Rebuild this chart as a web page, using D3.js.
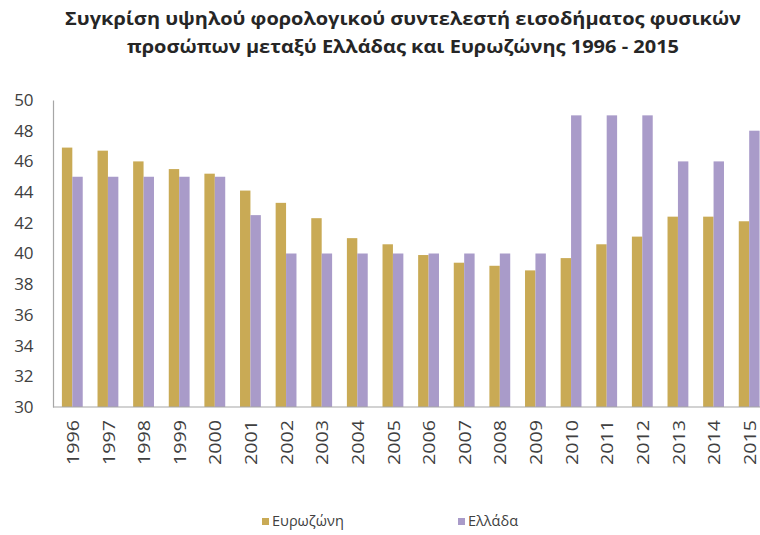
<!DOCTYPE html>
<html>
<head>
<meta charset="utf-8">
<script src="https://cdn.jsdelivr.net/npm/d3@7"></script>
<style>
  html, body { margin: 0; padding: 0; background: #fff; }
  svg { display: block; }
</style>
</head>
<body>
<svg id="chart" width="760" height="535"></svg>
<script>
// Top personal income tax rate, Eurozone vs Greece
const years = ["1996","1997","1998","1999","2000","2001","2002","2003","2004","2005",
               "2006","2007","2008","2009","2010","2011","2012","2013","2014","2015"];
const eurozone = [46.9, 46.7, 46.0, 45.5, 45.2, 44.1, 43.3, 42.3, 41.0, 40.6,
                  39.9, 39.4, 39.2, 38.9, 39.7, 40.6, 41.1, 42.4, 42.4, 42.1];
const greece   = [45, 45, 45, 45, 45, 42.5, 40, 40, 40, 40,
                  40, 40, 40, 40, 49, 49, 49, 46, 46, 48];
const yTicks = [30, 32, 34, 36, 38, 40, 42, 44, 46, 48, 50];
const seriesNames = ["Ευρωζώνη", "Ελλάδα"];
const titleLines = ["Συγκρίση υψηλού φορολογικού συντελεστή εισοδήματος φυσικών",
                    "προσώπων μεταξύ Ελλάδας και Ευρωζώνης 1996 - 2015"];

const colors = ["#c9aa55", "#a99bc9"];
const font = "'Open Sans', 'Noto Sans', sans-serif";
const textColor = "#404040";
const axisColor = "#a6a6a6";

const svg = d3.select("#chart");
const plotLeft = 53, plotTop = 100, plotBottom = 407;

const x = d3.scaleBand().domain(years).range([54.5, 767]).paddingInner(0).paddingOuter(0);
const x1 = d3.scaleBand().domain([0, 1]).range([0, x.bandwidth()]).paddingInner(0).paddingOuter(0.71);
const y = d3.scaleLinear().domain([30, 50]).range([plotBottom, plotTop]);

// Title
svg.append("g").selectAll("text").data(titleLines).join("text")
  .attr("x", 403).attr("y", (d, i) => 25 + i * 28)
  .attr("text-anchor", "middle")
  .attr("font-family", font).attr("font-weight", 700).attr("font-size", 17)
  .attr("fill", "#262626")
  .attr("textLength", (d, i) => i === 0 ? 676 : 552)
  .attr("lengthAdjust", "spacingAndGlyphs")
  .text(d => d);

// Bars
const groups = svg.append("g").selectAll("g").data(years).join("g")
  .attr("transform", d => `translate(${x(d)},0)`);
groups.selectAll("rect")
  .data((d, i) => [eurozone[i], greece[i]])
  .join("rect")
  .attr("x", (v, j) => x1(j))
  .attr("width", x1.bandwidth())
  .attr("y", v => y(v))
  .attr("height", v => plotBottom - y(v))
  .attr("fill", (v, j) => colors[j]);

// Y axis
const yAxis = svg.append("g").attr("transform", `translate(${plotLeft},0)`)
  .call(d3.axisLeft(y).tickValues(yTicks).tickSize(0).tickPadding(20).tickFormat(d3.format("d")));
yAxis.select(".domain").attr("stroke", axisColor).attr("stroke-width", 1.2);
yAxis.selectAll("text").attr("font-family", font).attr("font-size", 17)
  .attr("fill", textColor).attr("letter-spacing", -0.4);

// X axis
const xAxis = svg.append("g").attr("transform", `translate(0,${plotBottom})`)
  .call(d3.axisBottom(x).tickSize(0).tickPadding(0));
xAxis.select(".domain").attr("d", `M${plotLeft},0H760`).attr("stroke", axisColor).attr("stroke-width", 1.2);
xAxis.selectAll(".tick").attr("transform", d => `translate(${x(d) + x.bandwidth() / 2 + 1},0)`);
xAxis.selectAll("text")
  .attr("font-family", font).attr("font-size", 16).attr("fill", textColor)
  .attr("transform", "rotate(-90)")
  .attr("text-anchor", "end")
  .attr("dy", "0.35em")
  .attr("x", -13).attr("y", 0)
  .attr("textLength", 45)
  .attr("lengthAdjust", "spacingAndGlyphs");

// Legend
const legend = svg.append("g");
const legendX = [262, 458];
seriesNames.forEach((name, i) => {
  legend.append("rect").attr("x", legendX[i]).attr("y", 518)
    .attr("width", 7).attr("height", 7).attr("fill", colors[i]);
  legend.append("text").attr("x", legendX[i] + 10).attr("y", 526)
    .attr("font-family", font).attr("font-size", 14.5).attr("fill", textColor)
    .text(name);
});
</script>
</body>
</html>
